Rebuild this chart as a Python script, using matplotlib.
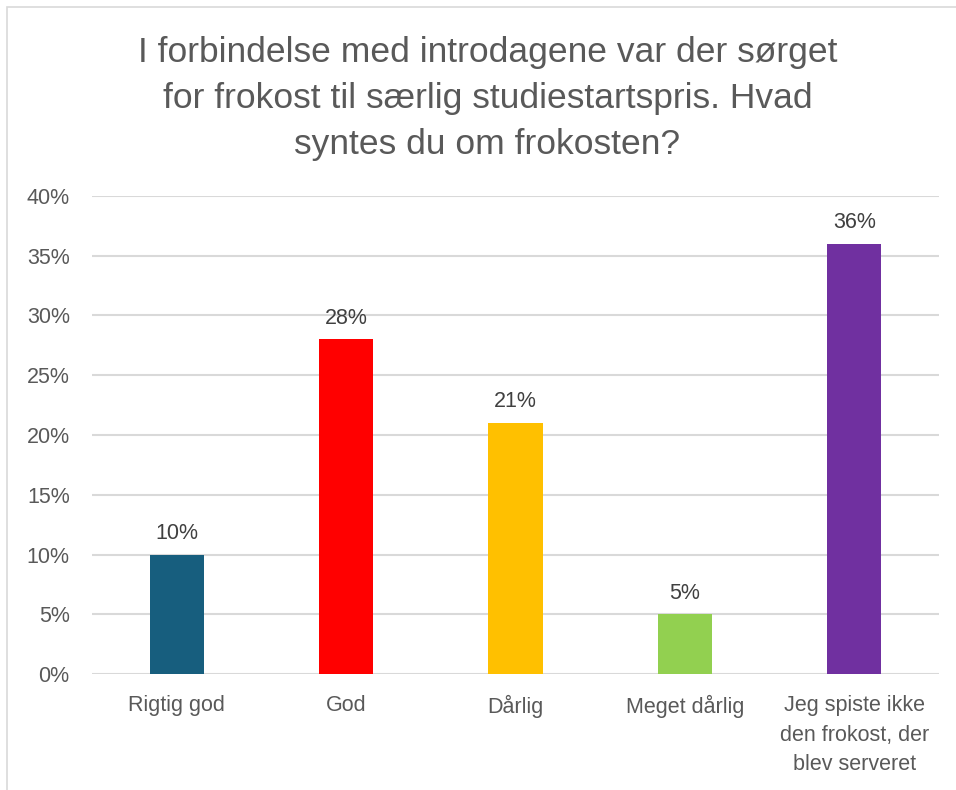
import matplotlib.pyplot as plt
from matplotlib.patches import Rectangle

# data
kategorier = ['Rigtig god', 'God', 'Dårlig', 'Meget dårlig',
              'Jeg spiste ikke\nden frokost, der\nblev serveret']
andel = [10, 28, 21, 5, 36]
farver = ['#175E7E', '#FF0000', '#FFC000', '#92D050', '#7030A0']
yticks = [0, 5, 10, 15, 20, 25, 30, 35, 40]

plt.rcParams['font.family'] = ['Liberation Sans', 'DejaVu Sans']
grey = '#595959'

fig = plt.figure(figsize=(9.56, 7.90), dpi=100)
ax = fig.add_axes([0.0962, 0.1468, 0.886, 0.6052])

x = range(len(kategorier))
bars = ax.bar(x, andel, width=0.32, color=farver, zorder=3)
for b, v in zip(bars, andel):
    ax.text(b.get_x() + b.get_width() / 2, v + 0.9, f'{v}%', ha='center', va='bottom',
            fontsize=15.5, color='#404040')

ax.set_xlim(-0.5, len(kategorier) - 0.5)
ax.set_ylim(0, 40)
ax.set_yticks(yticks)
ax.set_yticklabels([f'{t}%' for t in yticks], fontsize=15.5, color=grey)
ax.set_xticks(list(x))
ax.set_xticklabels(kategorier, fontsize=15.5, color=grey, linespacing=1.55, va='top')
ax.tick_params(axis='both', length=0)
ax.tick_params(axis='y', pad=16)
ax.tick_params(axis='x', pad=15)
ax.grid(axis='y', color='#D9D9D9', linewidth=1.5, zorder=0)
for s in ax.spines.values():
    s.set_visible(False)

fig.text(0.51, 0.954, 'I forbindelse med introdagene var der sørget\n'
         'for frokost til særlig studiestartspris. Hvad\nsyntes du om frokosten?',
         ha='center', va='top', fontsize=25.5, color=grey, linespacing=1.49)

# kant rundt om diagrammet
fig.patches.append(Rectangle((7 / 956, -0.01), 1.0, 1 - 7 / 790 + 0.01, transform=fig.transFigure,
                             fill=False, edgecolor='#D9D9D9', linewidth=1.2))

fig.savefig('out.png', dpi=100)
